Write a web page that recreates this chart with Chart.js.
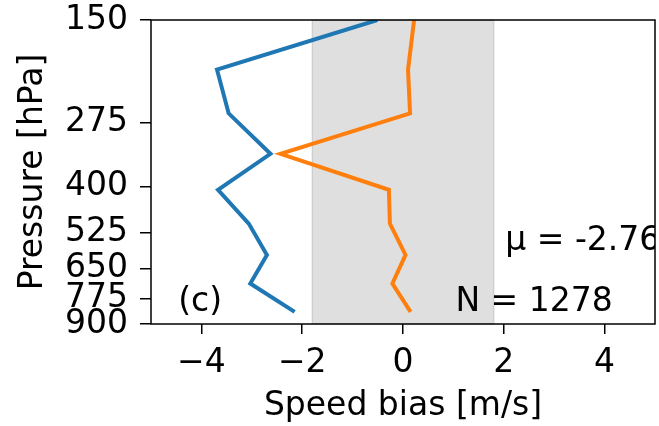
<!DOCTYPE html>
<html><head><meta charset="utf-8">
<script src="https://cdn.jsdelivr.net/npm/chart.js@4/dist/chart.umd.min.js"></script>
<style>html,body{margin:0;padding:0;background:#fff;overflow:hidden;}</style>
</head><body>
<canvas id="c" width="659" height="426"></canvas>
<script>
const pressureLevels = [150, 201, 260, 330, 408, 498, 599, 709, 838];
const blueBias = [-0.51, -3.69, -3.46, -2.63, -3.67, -3.06, -2.70, -3.03, -2.15];
const orangeBias = [0.22, 0.10, 0.14, -2.43, -0.28, -0.26, 0.05, -0.21, 0.15];
const yTickValues = [150, 275, 400, 525, 650, 775, 900];
const xTickValues = [-4, -2, 0, 2, 4];
const xRange = [-5, 5];
const yRange = [150, 900];
const shadeRange = [-1.8, 1.8];
const panelLabel = '(c)';
const meanText = 'μ = -2.76';
const countText = 'N = 1278';

const FONT = "'DejaVu Sans', sans-serif";
const FS = 33;

const shadePlugin = {
  id: 'shade',
  beforeDatasetsDraw(chart) {
    const {ctx, chartArea: a, scales: {x}} = chart;
    const x0 = x.getPixelForValue(shadeRange[0]);
    const x1 = x.getPixelForValue(shadeRange[1]);
    ctx.save();
    ctx.fillStyle = 'rgba(128,128,128,0.25)';
    ctx.fillRect(x0, a.top, x1 - x0, a.bottom - a.top);
    ctx.strokeStyle = 'rgba(128,128,128,0.25)';
    ctx.lineWidth = 1.5;
    ctx.strokeRect(x0, a.top, x1 - x0, a.bottom - a.top);
    ctx.restore();
  },
  afterDatasetsDraw(chart) {
    const {ctx, chartArea: a} = chart;
    const w = a.right - a.left, h = a.bottom - a.top;
    ctx.save();
    ctx.beginPath();
    ctx.rect(a.left, 0, w, chart.height);
    ctx.clip();
    ctx.fillStyle = '#000';
    ctx.font = FS + 'px ' + FONT;
    ctx.textBaseline = 'alphabetic';
    ctx.textAlign = 'left';
    ctx.fillText(panelLabel, a.left + 0.054 * w, a.top + 0.958 * h);
    ctx.fillText(meanText, a.left + 0.703 * w, a.top + 0.758 * h);
    ctx.fillText(countText, a.left + 0.604 * w, a.top + 0.958 * h);
    ctx.restore();
    ctx.save();
    ctx.strokeStyle = '#000';
    ctx.lineWidth = 1.5;
    ctx.strokeRect(a.left, a.top, w, h);
    ctx.restore();
  }
};

new Chart(document.getElementById('c'), {
  type: 'line',
  data: {
    datasets: [
      {data: pressureLevels.map((p, i) => ({x: blueBias[i], y: p})), borderColor: '#1f77b4', borderWidth: 4, pointRadius: 0, tension: 0, clip: 0, fill: false},
      {data: pressureLevels.map((p, i) => ({x: orangeBias[i], y: p})), borderColor: '#ff7f0e', borderWidth: 4, pointRadius: 0, tension: 0, clip: 0, fill: false}
    ]
  },
  options: {
    responsive: false,
    animation: false,
    devicePixelRatio: 1,
    layout: {padding: {top: 20, right: 4, left: 0, bottom: 0}},
    plugins: {legend: {display: false}, tooltip: {enabled: false}},
    scales: {
      x: {
        type: 'linear', min: xRange[0], max: xRange[1],
        afterBuildTicks: s => { s.ticks = xTickValues.map(v => ({value: v})); },
        afterFit: s => { s.height = 102; s.paddingLeft = 0; s.paddingRight = 0; },
        grid: {display: true, drawOnChartArea: false, drawTicks: true, tickLength: 10, color: '#000', lineWidth: 1.5},
        border: {display: false},
        ticks: {autoSkip: false, maxRotation: 0, color: '#000', padding: 10, font: {family: FONT, size: FS},
          callback: v => v < 0 ? '\u2212' + Math.abs(v) : String(v)},
        title: {display: true, text: 'Speed bias [m/s]', color: '#000', font: {family: FONT, size: FS}, padding: {top: 0, bottom: 0}}
      },
      y: {
        type: 'logarithmic', reverse: true, min: yRange[0], max: yRange[1],
        afterBuildTicks: s => { s.ticks = yTickValues.map(v => ({value: v})); },
        afterFit: s => { s.width = 151; s.paddingTop = 0; s.paddingBottom = 0; },
        grid: {display: true, drawOnChartArea: false, drawTicks: true, tickLength: 11, color: '#000', lineWidth: 1.5},
        border: {display: false},
        ticks: {autoSkip: false, color: '#000', padding: 12, font: {family: FONT, size: FS}, callback: v => String(v)},
        title: {display: true, text: 'Pressure [hPa]', color: '#000', font: {family: FONT, size: FS}, padding: {top: 14, bottom: 0}}
      }
    }
  },
  plugins: [shadePlugin]
});
</script>
</body></html>
